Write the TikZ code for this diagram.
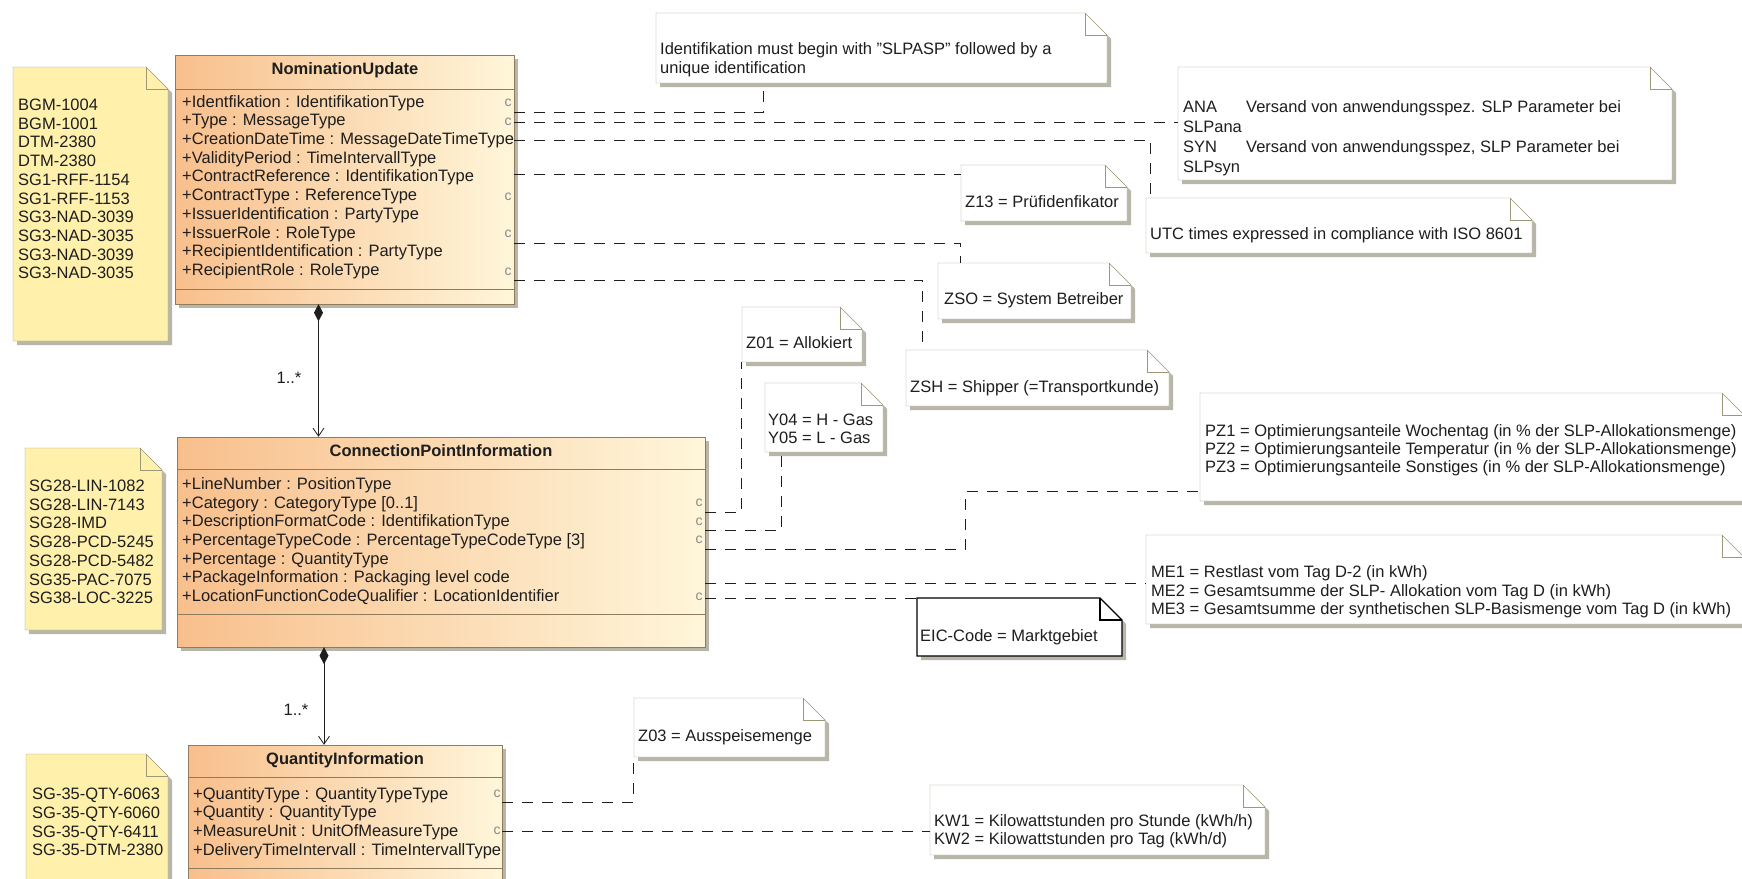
\documentclass[tikz,border=0pt]{standalone}
\usepackage{fontspec}
\setmainfont{Liberation Sans}
\usetikzlibrary{arrows.meta,fit}

\definecolor{umlorange}{HTML}{F8BF8C}
\definecolor{umlcream}{HTML}{FFF6DA}
\definecolor{umlframe}{HTML}{8E7C5C}
\definecolor{noteyellow}{HTML}{FFF0AC}
\definecolor{noteframe}{HTML}{9C9878}
\definecolor{dropshade}{HTML}{B8B6A8}
\definecolor{inkgray}{HTML}{1E1E1E}
\definecolor{portgray}{HTML}{8A8A8A}

% note with folded corner: name, x1, y1, x2, y2, look
\newcommand{\umlnote}[6]{%
  \fill[dropshade] ({#2+4},{#3+4}) -- ({#4-18},{#3+4}) -- ({#4+4},{#3+26}) -- ({#4+4},{#5+4}) -- ({#2+4},{#5+4}) -- cycle;
  \filldraw[#6] (#2,#3) -- ({#4-22},#3) -- (#4,{#3+22}) -- (#4,#5) -- (#2,#5) -- cycle;
  \draw[#6,fill=none] ({#4-22},#3) -- ({#4-22},{#3+22}) -- (#4,{#3+22});
  \node[fit={(#2,#3) (#4,#5)}, inner sep=0pt] (#1) {};
}
% class box: name, x1, y1, x2, y2, header line, footer line
\newcommand{\umlclass}[7]{%
  \fill[dropshade] ({#2+4},{#3+4}) rectangle ({#4+4},{#5+4});
  \shade[left color=umlorange, right color=umlcream] (#2,#3) rectangle (#4,#5);
  \draw[umlframe] (#2,#3) rectangle (#4,#5);
  \draw[umlframe] (#2,#6) -- (#4,#6);
  \draw[umlframe] (#2,#7) -- (#4,#7);
  \node[fit={(#2,#3) (#4,#5)}, inner sep=0pt] (#1) {};
}
\newcommand{\dq}{\symbol{34}}

\begin{document}
\begin{tikzpicture}[x=1pt, y=-1pt,
    txt/.style={font=\fontsize{16.5}{18.7}\selectfont, text=inkgray, inner sep=0pt, align=left, anchor=west},
    title/.style={font=\fontsize{16.5}{18.7}\selectfont\bfseries, text=inkgray, inner sep=0pt},
    portc/.style={font=\fontsize{14}{14}\selectfont, text=portgray, inner sep=0pt},
    link/.style={draw=inkgray, line width=0.8pt, dash pattern=on 11pt off 9pt},
    compose/.style={draw=inkgray, line width=0.8pt, {Diamond[length=17pt,width=9pt]}-{Straight Barb[length=8pt,width=11pt]}},
    yellownote/.style={fill=noteyellow, draw=noteframe},
    whitenote/.style={fill=white, draw=noteframe}]
  \useasboundingbox (0,0) rectangle (1742,878);
  \fill[white] (0,0) rectangle (1742,878);

  % classes
  \umlclass{nu}{175}{55}{514}{304}{89}{289}
  \umlclass{cpi}{177}{437}{705}{647}{469}{614}
  \umlclass{qi}{188}{745}{502}{905}{777}{868}

  % notes
  \umlnote{bgm}{13}{67}{168}{341}{yellownote}
  \umlnote{sg28}{25}{448}{162}{630}{yellownote}
  \umlnote{sg35}{26}{754}{168}{905}{yellownote}
  \umlnote{ident}{656}{13}{1107}{83}{whitenote}
  \umlnote{ana}{1178}{67}{1672}{180}{whitenote}
  \umlnote{utc}{1146}{198}{1532}{253}{whitenote}
  \umlnote{z13}{961}{165}{1127}{221}{whitenote}
  \umlnote{zso}{938}{263}{1131}{319}{whitenote}
  \umlnote{z01}{742}{307}{862}{362}{whitenote}
  \umlnote{zsh}{906}{350}{1169}{406}{whitenote}
  \umlnote{y04}{765}{383}{883}{452}{whitenote}
  \umlnote{pz}{1200}{393}{1744}{501}{whitenote}
  \umlnote{me}{1146}{535}{1744}{624}{whitenote}
  \umlnote{eic}{917}{598}{1122}{656}{fill=white, draw=black, line width=1.3pt}
  \umlnote{z03}{634}{698}{825}{757}{whitenote}
  \umlnote{kw}{930}{785}{1265}{855}{whitenote}

  % attribute ends
  \coordinate (nu-ident) at (514,112);
  \coordinate (nu-type) at (514,122);
  \coordinate (nu-created) at (514,140);
  \coordinate (nu-contract) at (514,174);
  \coordinate (nu-issuer) at (514,243);
  \coordinate (nu-recipient) at (514,280);
  \coordinate (cpi-category) at (705,512);
  \coordinate (cpi-desc) at (705,530);
  \coordinate (cpi-percent) at (705,549);
  \coordinate (cpi-package) at (705,583);
  \coordinate (cpi-location) at (705,598);
  \coordinate (qi-type) at (502,802);
  \coordinate (qi-unit) at (502,831);

  % note links
  \draw[link] (nu-ident) -| ([xshift=108pt]ident.south west);
  \draw[link] (nu-type) -- (ana.west |- nu-type);
  \draw[link] (nu-created) -| ([xshift=5pt]utc.north west);
  \draw[link] (nu-contract) -- (z13.west |- nu-contract);
  \draw[link] (nu-issuer) -| ([xshift=23pt]zso.north west);
  \draw[link] (nu-recipient) -| ([xshift=17pt]zsh.north west);
  \draw[link] (cpi-category) -| (z01.south west);
  \draw[link] (cpi-desc) -| ([xshift=17pt]y04.south west);
  \draw[link] (cpi-percent) -| ([xshift=-234pt,yshift=-44pt]pz.west) -- ([yshift=-44pt]pz.west);
  \draw[link] (cpi-package) -- (me.west |- cpi-package);
  \draw[link] (cpi-location) -- (eic.west |- cpi-location);
  \draw[link] (qi-type) -| (z03.south west);
  \draw[link] (qi-unit) -- (kw.west |- qi-unit);

  % compositions
  \draw[compose] ([xshift=-26pt]nu.south) -- ([xshift=-26pt]nu.south |- cpi.north);
  \draw[compose] ([xshift=-117pt]cpi.south) -- ([xshift=-117pt]cpi.south |- qi.north);
  \node[txt, anchor=center] (mult1) at (289,378) {1..*};
  \node[txt, anchor=center] (mult2) at (296,710) {1..*};

  % class texts
  \node[title] (nutitle) at (345,70) {NominationUpdate};
  \node[txt] (nuattrs) at (182,187) {+Identfikation : IdentifikationType\\
    +Type : MessageType\\
    +CreationDateTime : MessageDateTimeType\\
    +ValidityPeriod : TimeIntervallType\\
    +ContractReference : IdentifikationType\\
    +ContractType : ReferenceType\\
    +IssuerIdentification : PartyType\\
    +IssuerRole : RoleType\\
    +RecipientIdentification : PartyType\\
    +RecipientRole : RoleType};
  \node[title] (cpititle) at (441,451) {ConnectionPointInformation};
  \node[txt] (cpiattrs) at (182,541) {+LineNumber : PositionType\\
    +Category : CategoryType [0..1]\\
    +DescriptionFormatCode : IdentifikationType\\
    +PercentageTypeCode : PercentageTypeCodeType [3]\\
    +Percentage : QuantityType\\
    +PackageInformation : Packaging level code\\
    +LocationFunctionCodeQualifier : LocationIdentifier};
  \node[title] (qititle) at (345,760) {QuantityInformation};
  \node[txt] (qiattrs) at (193,823) {+QuantityType : QuantityTypeType\\
    +Quantity : QuantityType\\
    +MeasureUnit : UnitOfMeasureType\\
    +DeliveryTimeIntervall : TimeIntervallType};

  % port marks
  \node[portc] (pc1) at (508,103) {c};
  \node[portc] (pc2) at (508,122) {c};
  \node[portc] (pc3) at (508,197) {c};
  \node[portc] (pc4) at (508,234) {c};
  \node[portc] (pc5) at (508,272) {c};
  \node[portc] (pc6) at (699,503) {c};
  \node[portc] (pc7) at (699,522) {c};
  \node[portc] (pc8) at (699,540) {c};
  \node[portc] (pc9) at (699,597) {c};
  \node[portc] (pc10) at (497,794) {c};
  \node[portc] (pc11) at (497,831) {c};

  % note texts
  \node[txt] (bgmtext) at (18,189) {BGM-1004\\BGM-1001\\DTM-2380\\DTM-2380\\SG1-RFF-1154\\SG1-RFF-1153\\SG3-NAD-3039\\SG3-NAD-3035\\SG3-NAD-3039\\SG3-NAD-3035};
  \node[txt] (sg28text) at (29,542) {SG28-LIN-1082\\SG28-LIN-7143\\SG28-IMD\\SG28-PCD-5245\\SG28-PCD-5482\\SG35-PAC-7075\\SG38-LOC-3225};
  \node[txt] (sg35text) at (32,822) {SG-35-QTY-6063\\SG-35-QTY-6060\\SG-35-QTY-6411\\SG-35-DTM-2380};
  \node[txt] (identtext) at (660,60) {Identifikation must begin with \dq SLPASP\dq{} followed by a\\unique identification};
  \node[txt, font=\fontsize{16.5}{20}\selectfont] (anatext) at (1183,138) {\makebox[63pt][l]{ANA}Versand von anwendungsspez. SLP Parameter bei\\SLPana\\\makebox[63pt][l]{SYN}Versand von anwendungsspez, SLP Parameter bei\\SLPsyn};
  \node[txt] (utctext) at (1150,235) {UTC times expressed in compliance with ISO 8601};
  \node[txt] (z13text) at (965,202) {Z13 = Prüfidenfikator};
  \node[txt] (zsotext) at (944,300) {ZSO = System Betreiber};
  \node[txt] (z01text) at (746,343) {Z01 = Allokiert};
  \node[txt] (zshtext) at (910,388) {ZSH = Shipper (=Transportkunde)};
  \node[txt, font=\fontsize{16.5}{18}\selectfont] (y04text) at (768,429) {Y04 = H - Gas\\Y05 = L - Gas};
  \node[txt, font=\fontsize{16.5}{18}\selectfont] (pztext) at (1205,450) {PZ1 = Optimierungsanteile Wochentag (in \% der SLP-Allokationsmenge)\\PZ2 = Optimierungsanteile Temperatur (in \% der SLP-Allokationsmenge)\\PZ3 = Optimierungsanteile Sonstiges (in \% der SLP-Allokationsmenge)};
  \node[txt, font=\fontsize{16.5}{18.5}\selectfont] (metext) at (1151,592) {ME1 = Restlast vom Tag D-2 (in kWh)\\ME2 = Gesamtsumme der SLP- Allokation vom Tag D (in kWh)\\ME3 = Gesamtsumme der synthetischen SLP-Basismenge vom Tag D (in kWh)};
  \node[txt] (eictext) at (920,637) {EIC-Code = Marktgebiet};
  \node[txt] (z03text) at (638,737) {Z03 = Ausspeisemenge};
  \node[txt, font=\fontsize{16.5}{18}\selectfont] (kwtext) at (934,831) {KW1 = Kilowattstunden pro Stunde (kWh/h)\\KW2 = Kilowattstunden pro Tag (kWh/d)};
\end{tikzpicture}
\end{document}
